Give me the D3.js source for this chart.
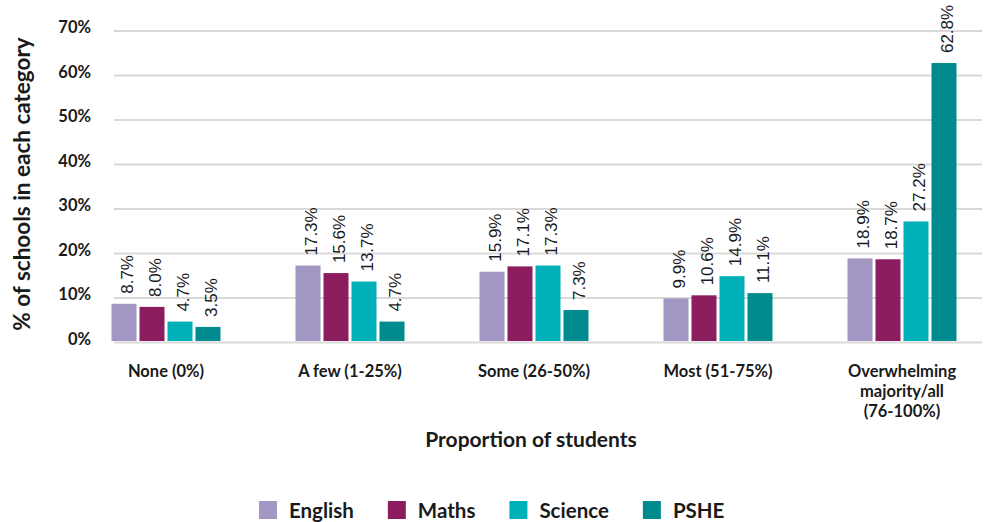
<!DOCTYPE html>
<html>
<head>
<meta charset="utf-8">
<script src="https://cdn.jsdelivr.net/npm/d3@7"></script>
<style>
  html, body { margin: 0; padding: 0; background: #fff; }
  svg { display: block; }
</style>
</head>
<body>
<svg id="chart" width="984" height="522"></svg>
<script>
// Share of schools by proportion of students, per subject
const categories = ["None (0%)", "A few (1-25%)", "Some (26-50%)", "Most (51-75%)", "Overwhelming\nmajority/all\n(76-100%)"];
const seriesNames = ["English", "Maths", "Science", "PSHE"];
const english = [8.7, 17.3, 15.9, 9.9, 18.9];
const maths   = [8.0, 15.6, 17.1, 10.6, 18.7];
const science = [4.7, 13.7, 17.3, 14.9, 27.2];
const pshe    = [3.5, 4.7, 7.3, 11.1, 62.8];
const seriesColors = ["#a197c2", "#8b1d5e", "#00b0b9", "#008b8e"];
const yTicks = [0, 10, 20, 30, 40, 50, 60, 70];
const yTitle = "% of schools in each category";
const xTitle = "Proportion of students";

const seriesValues = [english, maths, science, pshe];

const svg = d3.select("#chart");
const font = "Lato, 'Noto Sans', sans-serif";
const labelFont = "'Liberation Sans', Arial, sans-serif";
const ink = "#1a1a1a";

const gridLeft = 114, gridRight = 982;

const y = d3.scaleLinear().domain([0, 70]).range([342.5, 31]);
const x0 = d3.scaleBand().domain(categories).range([74, 994]).padding(0);
const x1 = d3.scaleBand().domain(seriesNames).range([-54.5, 54.5]).paddingInner(0.107).paddingOuter(0);
const color = d3.scaleOrdinal().domain(seriesNames).range(seriesColors);

// horizontal gridlines
svg.append("g").selectAll("line").data(yTicks).join("line")
  .attr("x1", gridLeft).attr("x2", gridRight)
  .attr("y1", d => y(d)).attr("y2", d => y(d))
  .attr("stroke", "#d9d9d9").attr("stroke-width", 2);

// y tick labels
svg.append("g").selectAll("text").data(yTicks).join("text")
  .attr("x", 91).attr("y", d => y(d) - 2)
  .attr("text-anchor", "end").attr("dominant-baseline", "middle")
  .attr("font-family", font).attr("font-weight", 700).attr("font-size", 16.5)
  .attr("fill", ink)
  .text(d => d + "%");

// bars grouped by category
const rows = categories.map((c, i) => ({
  cat: c,
  items: seriesNames.map((s, j) => ({ series: s, value: seriesValues[j][i] }))
}));

const groups = svg.append("g").selectAll("g").data(rows).join("g")
  .attr("transform", d => `translate(${x0(d.cat) + x0.bandwidth() / 2},0)`);

groups.selectAll("rect").data(d => d.items).join("rect")
  .attr("x", d => x1(d.series))
  .attr("width", x1.bandwidth())
  .attr("y", d => y(d.value))
  .attr("height", d => y(0) - 1.5 - y(d.value))
  .attr("fill", d => color(d.series));

// value labels, rotated
groups.selectAll("text").data(d => d.items).join("text")
  .attr("transform", d => `translate(${x1(d.series) + x1.bandwidth() / 2 + 9},${y(d.value) - 10}) rotate(-90)`)
  .attr("text-anchor", "start")
  .attr("font-family", labelFont).attr("font-size", 17)
  .attr("fill", ink)
  .text(d => d.value.toFixed(1) + "%");

// category labels
const catLabels = svg.append("g").selectAll("text").data(categories).join("text")
  .attr("x", d => x0(d) + x0.bandwidth() / 2)
  .attr("y", 377)
  .attr("text-anchor", "middle")
  .attr("font-family", font).attr("font-weight", 700).attr("font-size", 16.5)
  .attr("fill", ink);
catLabels.selectAll("tspan").data(d => d.split("\n")).join("tspan")
  .attr("x", function () { return d3.select(this.parentNode).attr("x"); })
  .attr("dy", (d, i) => i === 0 ? 0 : 20)
  .text(d => d);

// axis titles
svg.append("text")
  .attr("transform", "translate(30,184) rotate(-90)")
  .attr("text-anchor", "middle")
  .attr("font-family", font).attr("font-weight", 700).attr("font-size", 22.5)
  .attr("fill", ink)
  .text(yTitle);

svg.append("text")
  .attr("x", 531).attr("y", 447)
  .attr("text-anchor", "middle")
  .attr("font-family", font).attr("font-weight", 700).attr("font-size", 21)
  .attr("fill", ink)
  .text(xTitle);

// legend, laid out left to right
const legend = svg.append("g").attr("transform", "translate(259,0)");
let cursor = 0;
seriesNames.forEach(s => {
  const item = legend.append("g").attr("transform", `translate(${cursor},0)`);
  item.append("rect")
    .attr("x", 0).attr("y", 501).attr("width", 18).attr("height", 18)
    .attr("fill", color(s));
  const t = item.append("text")
    .attr("x", 30).attr("y", 518)
    .attr("font-family", font).attr("font-weight", 700).attr("font-size", 20.5)
    .attr("fill", ink)
    .text(s);
  cursor += 30 + t.node().getComputedTextLength() + 34;
});
</script>
</body>
</html>
